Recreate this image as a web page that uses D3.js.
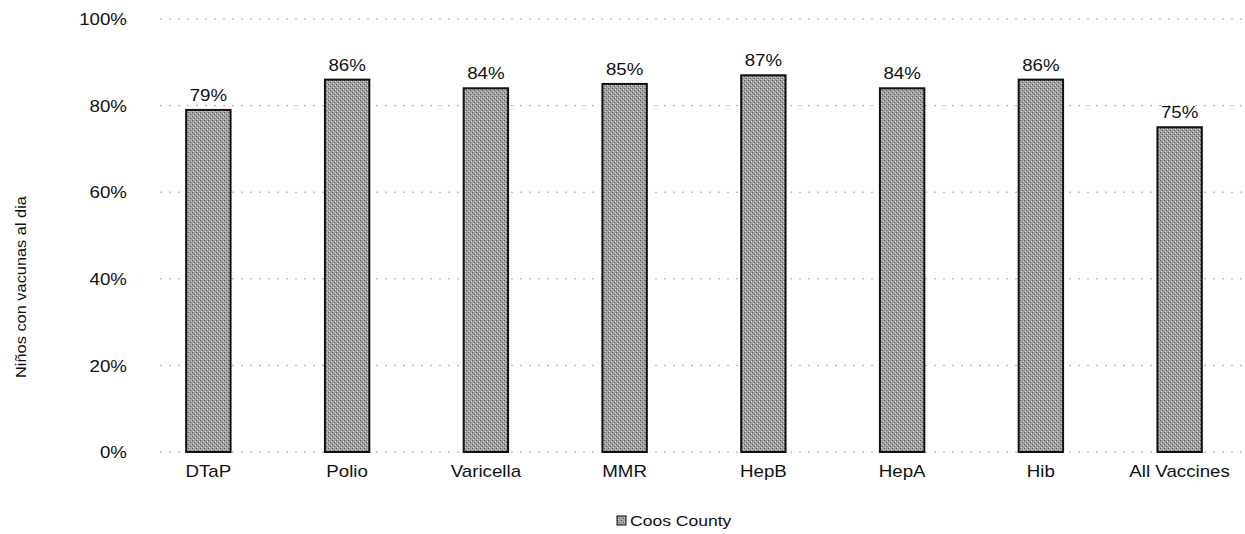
<!DOCTYPE html>
<html><head><meta charset="utf-8">
<script src="https://cdn.jsdelivr.net/npm/d3@7"></script>
<style>body{margin:0;background:#fff}text{font-family:"Liberation Sans",Arial,sans-serif;fill:#111}</style>
</head><body>
<svg id="c" width="1245" height="534"></svg>
<script>
const categories = ["DTaP","Polio","Varicella","MMR","HepB","HepA","Hib","All Vaccines"];
const values = [79, 86, 84, 85, 87, 84, 86, 75];
const yTicks = [0, 20, 40, 60, 80, 100];
const seriesName = "Coos County";
const yTitle = "Niños con vacunas al dia";

const SX = 1.17;
const svg = d3.select("#c");
const defs = svg.append("defs");
const pat = defs.append("pattern").attr("id","tex").attr("width",4).attr("height",4).attr("patternUnits","userSpaceOnUse");
pat.append("rect").attr("width",4).attr("height",4).attr("fill","#a2a2a2");
pat.append("rect").attr("x",0).attr("y",0).attr("width",1).attr("height",1).attr("fill","#575757");
pat.append("rect").attr("x",2).attr("y",2).attr("width",1).attr("height",1).attr("fill","#575757");
pat.append("rect").attr("x",3).attr("y",1).attr("width",1).attr("height",1).attr("fill","#cfcfcf");
pat.append("rect").attr("x",1).attr("y",3).attr("width",1).attr("height",1).attr("fill","#cfcfcf");

const x = d3.scaleBand().domain(categories).range([139, 1249]).paddingInner(0.68).paddingOuter(0.34);
const y = d3.scaleLinear().domain([0, 100]).range([452, 19]);

// gridlines
svg.append("g").selectAll("line").data(yTicks).join("line")
  .attr("x1", 160).attr("x2", 1245)
  .attr("y1", d => y(d)).attr("y2", d => y(d))
  .attr("stroke", "#a8a8a8").attr("stroke-width", 1).attr("stroke-dasharray", "2,7");

// y axis labels
const yAxis = d3.axisLeft(y).tickValues(yTicks).tickFormat(d => d + "%").tickSize(0).tickPadding(0);
const ya = svg.append("g").attr("transform", "translate(127,0)").call(yAxis);
ya.select(".domain").remove();
ya.selectAll("text").style("font-size", "16px").attr("font-family", "Liberation Sans, Arial, sans-serif")
  .attr("fill", "#111").attr("dy", "0.35em").attr("transform", `scale(${SX},1)`);

// bars
svg.append("g").selectAll("rect").data(values).join("rect")
  .attr("x", (d, i) => x(categories[i]))
  .attr("y", d => y(d))
  .attr("width", x.bandwidth())
  .attr("height", d => y(0) - y(d))
  .attr("fill", "url(#tex)").attr("stroke", "#111").attr("stroke-width", 2);

// value labels
svg.append("g").selectAll("text").data(values).join("text")
  .attr("transform", (d, i) => `translate(${x(categories[i]) + x.bandwidth() / 2},${y(d) - 9}) scale(${SX},1)`)
  .attr("text-anchor", "middle").style("font-size", "16px")
  .text(d => d + "%");

// x axis labels
const xAxis = d3.axisBottom(x).tickSize(0).tickPadding(0);
const xa = svg.append("g").attr("transform", "translate(0,466)").call(xAxis);
xa.select(".domain").remove();
xa.selectAll("text").style("font-size", "16px").attr("font-family", "Liberation Sans, Arial, sans-serif")
  .attr("fill", "#111").attr("dy", "0.71em").attr("transform", `scale(${SX},1)`);

// y title
svg.append("text").attr("transform", `translate(26,287) rotate(-90) scale(${SX},1)`)
  .attr("text-anchor", "middle").style("font-size", "14px").text(yTitle);

// legend
const lg = svg.append("g").attr("transform", "translate(617,516)");
lg.append("rect").attr("x", 0).attr("y", 0).attr("width", 9).attr("height", 9).attr("fill", "url(#tex)").attr("stroke", "#111").attr("stroke-width", 1);
lg.append("text").attr("transform", `translate(13,10) scale(${SX},1)`).style("font-size", "15px").text(seriesName);
</script>
</body></html>
